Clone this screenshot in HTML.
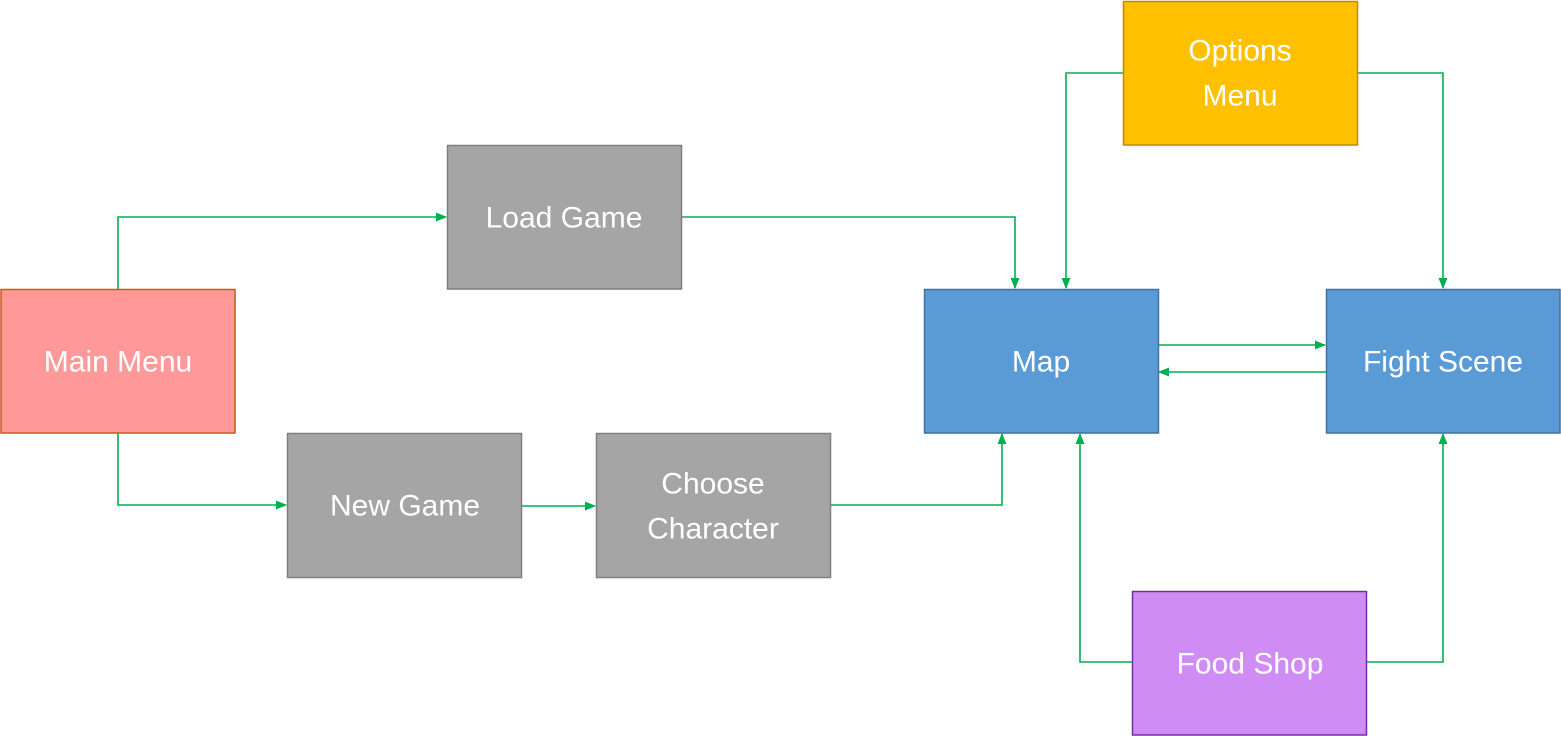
<!DOCTYPE html>
<html><head><style>body{margin:0;background:#fff}svg{display:block}text{font-family:"Liberation Sans",sans-serif;font-size:30px;fill:#fff;text-anchor:middle;dominant-baseline:central}</style></head>
<body>
<svg width="1561" height="736" viewBox="0 0 1561 736">
<defs><marker id="a" markerWidth="11" markerHeight="11" refX="10" refY="5.5" orient="auto" markerUnits="userSpaceOnUse"><path d="M0,1 L11,5.5 L0,10 z" fill="#00B050"/></marker></defs>
<g stroke="#00B050" stroke-width="1.6" fill="none" marker-end="url(#a)">
<polyline points="118,289 118,217 446,217"/>
<polyline points="682,217 1015,217 1015,288"/>
<polyline points="118,433 118,505 286,505"/>
<polyline points="522,506 595,506"/>
<polyline points="831,505 1002,505 1002,434"/>
<polyline points="1123,73 1066,73 1066,288"/>
<polyline points="1358,73 1443,73 1443,288"/>
<polyline points="1158,345 1325,345"/>
<polyline points="1326,372 1159,372"/>
<polyline points="1132,662 1080,662 1080,434"/>
<polyline points="1367,662 1443,662 1443,434"/>
</g>
<g stroke-width="1.5">
<rect x="1" y="289.5" width="234" height="143.5" fill="#FF9999" stroke="#C55A11"/>
<rect x="447.5" y="145.5" width="234" height="143.5" fill="#A5A5A5" stroke="#7F7F7F"/>
<rect x="287.5" y="433.5" width="234" height="144" fill="#A5A5A5" stroke="#7F7F7F"/>
<rect x="596.5" y="433.5" width="234" height="144" fill="#A5A5A5" stroke="#7F7F7F"/>
<rect x="924.5" y="289.5" width="234" height="143.5" fill="#5B9BD5" stroke="#41719C"/>
<rect x="1326.5" y="289.5" width="233.5" height="143.5" fill="#5B9BD5" stroke="#41719C"/>
<rect x="1123.5" y="1.5" width="234" height="143.5" fill="#FFC000" stroke="#BC8C00"/>
<rect x="1132.5" y="591.5" width="234" height="143.5" fill="#D08CF5" stroke="#7030A0"/>
</g>
<text x="118" y="362">Main Menu</text>
<text x="564" y="218">Load Game</text>
<text x="405" y="506">New Game</text>
<text x="713" y="484">Choose</text>
<text x="713" y="529">Character</text>
<text x="1041" y="362">Map</text>
<text x="1443" y="362">Fight Scene</text>
<text x="1240" y="51">Options</text>
<text x="1240" y="96">Menu</text>
<text x="1250" y="664">Food Shop</text>
</svg>
</body></html>
